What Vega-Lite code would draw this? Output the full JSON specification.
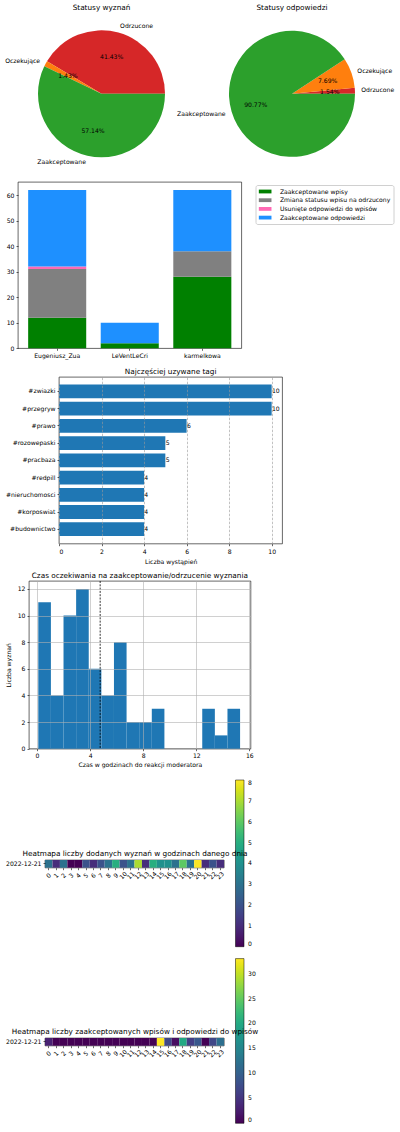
{
  "$schema": "https://vega.github.io/schema/vega-lite/v6.json",
  "padding": {"left": 4, "top": 4, "right": 0, "bottom": 0},
  "columns": 1,
  "align": "none",
  "spacing": 6,
  "resolve": {"scale": {"color": "independent"}, "legend": {"color": "independent"}},
  "config": {
    "font": "DejaVu Sans",
    "view": {"stroke": null},
    "axis": {
      "labelFont": "DejaVu Sans", "labelFontSize": 6.1, "labelColor": "#000",
      "tickColor": "#000", "tickSize": 2, "tickWidth": 0.6,
      "domain": false, "labelPadding": 2,
      "titleFont": "DejaVu Sans", "titleFontSize": 6.1, "titleFontWeight": "normal", "titleColor": "#000",
      "grid": false
    },
    "title": {"font": "DejaVu Sans", "fontSize": 7.3, "fontWeight": "normal", "color": "#000"},
    "legend": {"labelFont": "DejaVu Sans", "labelFontSize": 6.1, "labelColor": "#000"}
  },
  "concat": [
    {
      "spacing": 0,
      "hconcat": [
        {"width": 1, "height": 1, "data": {"values": [{}]}, "mark": {"type": "point", "size": 0, "opacity": 0}, "encoding": {}},
        {
          "spacing": 12,
          "hconcat": [
            {
              "width": 127, "height": 161.6,
              "title": {"text": "Statusy wyznań", "offset": 1.5},
              "data": {"values": [
                {"status": "Odrzucone", "count": 29, "ord": 1, "pct": "41.43%"},
                {"status": "Oczekujące", "count": 1, "ord": 2, "pct": "1.43%"},
                {"status": "Zaakceptowane", "count": 40, "ord": 3, "pct": "57.14%"}
              ]},
              "encoding": {
                "theta": {"field": "count", "type": "quantitative", "stack": true, "scale": {"range": [1.5708, 7.854]}},
                "order": {"field": "ord", "type": "quantitative", "sort": "descending"},
                "color": {"field": "status", "type": "nominal", "scale": {"domain": ["Odrzucone", "Oczekujące", "Zaakceptowane"], "range": ["#d62728", "#ff7f0e", "#2ca02c"]}, "legend": null}
              },
              "layer": [
                {"mark": {"type": "arc", "outerRadius": 63.5}},
                {"mark": {"type": "text", "radius": 38.1, "fontSize": 6.1, "font": "DejaVu Sans", "baseline": "middle"}, "encoding": {"text": {"field": "pct"}, "color": {"value": "#000"}}},
                {"mark": {"type": "text", "radius": 69.85, "fontSize": 6.1, "font": "DejaVu Sans", "baseline": "middle", "align": {"expr": "datum.status === 'Odrzucone' ? 'left' : 'right'"}}, "encoding": {"text": {"field": "status"}, "color": {"value": "#000"}}}
              ]
            },
            {
              "width": 126, "height": 161.6,
              "title": {"text": "Statusy odpowiedzi", "offset": 1.5},
              "data": {"values": [
                {"status": "Odrzucone", "count": 1, "ord": 1, "pct": "1.54%"},
                {"status": "Oczekujące", "count": 5, "ord": 2, "pct": "7.69%"},
                {"status": "Zaakceptowane", "count": 59, "ord": 3, "pct": "90.77%"}
              ]},
              "encoding": {
                "theta": {"field": "count", "type": "quantitative", "stack": true, "scale": {"range": [1.5708, 7.854]}},
                "order": {"field": "ord", "type": "quantitative", "sort": "descending"},
                "color": {"field": "status", "type": "nominal", "scale": {"domain": ["Odrzucone", "Oczekujące", "Zaakceptowane"], "range": ["#d62728", "#ff7f0e", "#2ca02c"]}, "legend": null}
              },
              "layer": [
                {"mark": {"type": "arc", "outerRadius": 63}},
                {"mark": {"type": "text", "radius": 37.8, "fontSize": 6.1, "font": "DejaVu Sans", "baseline": "middle"}, "encoding": {"text": {"field": "pct"}, "color": {"value": "#000"}}},
                {"mark": {"type": "text", "radius": 69.3, "fontSize": 6.1, "font": "DejaVu Sans", "baseline": "middle", "align": {"expr": "datum.status === 'Zaakceptowane' ? 'right' : 'left'"}}, "encoding": {"text": {"field": "status"}, "color": {"value": "#000"}}}
              ]
            }
          ]
        }
      ]
    },
    {
      "spacing": 0,
      "resolve": {"scale": {"color": "independent"}, "legend": {"color": "independent"}},
      "hconcat": [
        {"width": 1, "height": 1, "data": {"values": [{}]}, "mark": {"type": "point", "size": 0, "opacity": 0}, "encoding": {}},
        {
          "width": 223.5, "height": 166.3,
          "view": {"stroke": "#000", "strokeWidth": 0.6},
          "data": {"values": [
            {"user": "Eugeniusz_Zua", "category": "Zaakceptowane wpisy", "layer": 1, "value": 12},
            {"user": "Eugeniusz_Zua", "category": "Zmiana statusu wpisu na odrzucony", "layer": 2, "value": 19},
            {"user": "Eugeniusz_Zua", "category": "Usunięte odpowiedzi do wpisów", "layer": 3, "value": 1},
            {"user": "Eugeniusz_Zua", "category": "Zaakceptowane odpowiedzi", "layer": 4, "value": 30},
            {"user": "LeVentLeCri", "category": "Zaakceptowane wpisy", "layer": 1, "value": 2},
            {"user": "LeVentLeCri", "category": "Zmiana statusu wpisu na odrzucony", "layer": 2, "value": 0},
            {"user": "LeVentLeCri", "category": "Usunięte odpowiedzi do wpisów", "layer": 3, "value": 0},
            {"user": "LeVentLeCri", "category": "Zaakceptowane odpowiedzi", "layer": 4, "value": 8},
            {"user": "karmelkowa", "category": "Zaakceptowane wpisy", "layer": 1, "value": 28},
            {"user": "karmelkowa", "category": "Zmiana statusu wpisu na odrzucony", "layer": 2, "value": 10},
            {"user": "karmelkowa", "category": "Usunięte odpowiedzi do wpisów", "layer": 3, "value": 0},
            {"user": "karmelkowa", "category": "Zaakceptowane odpowiedzi", "layer": 4, "value": 24}
          ]},
          "mark": {"type": "bar"},
          "encoding": {
            "x": {"field": "user", "type": "nominal", "sort": null, "scale": {"paddingInner": 0.2, "paddingOuter": 0.14}, "axis": {"title": null, "labelAngle": 0, "minExtent": 11.4}},
            "y": {"field": "value", "type": "quantitative", "stack": "zero", "scale": {"domain": [0, 65.1], "nice": false}, "axis": {"title": null, "values": [0, 10, 20, 30, 40, 50, 60]}},
            "order": {"field": "layer", "type": "quantitative"},
            "color": {
              "field": "category", "type": "nominal",
              "scale": {"domain": ["Zaakceptowane wpisy", "Zmiana statusu wpisu na odrzucony", "Usunięte odpowiedzi do wpisów", "Zaakceptowane odpowiedzi"], "range": ["#008000", "#808080", "#ff69b4", "#1e90ff"]},
              "legend": {"orient": "none", "legendX": 237.5, "legendY": 3, "title": null, "direction": "vertical", "fillColor": "#fff", "strokeColor": "#d0d0d0", "padding": 3, "cornerRadius": 2, "symbolType": "M-2,-0.6H2V0.6H-2Z", "symbolSize": 40, "symbolStrokeWidth": 0, "symbolOffset": 3.15, "labelOffset": 11.3, "rowPadding": 1.7, "labelLimit": 300}
            }
          }
        }
      ]
    },
    {
      "spacing": 0,
      "hconcat": [
        {"width": 1, "height": 1, "data": {"values": [{}]}, "mark": {"type": "point", "size": 0, "opacity": 0}, "encoding": {}},
        {
          "width": 223.3, "height": 166.7,
          "title": {"text": "Najczęściej uzywane tagi", "offset": 1.7},
          "view": {"stroke": "#000", "strokeWidth": 0.6},
          "data": {"values": [
            {"tag": "#zwiazki", "count": 10},
            {"tag": "#przegryw", "count": 10},
            {"tag": "#prawo", "count": 6},
            {"tag": "#rozowepaski", "count": 5},
            {"tag": "#pracbaza", "count": 5},
            {"tag": "#redpill", "count": 4},
            {"tag": "#nieruchomosci", "count": 4},
            {"tag": "#korposwiat", "count": 4},
            {"tag": "#budownictwo", "count": 4}
          ]},
          "encoding": {
            "y": {"field": "tag", "type": "nominal", "sort": null, "scale": {"paddingInner": 0.2, "paddingOuter": 0.44}, "axis": {"title": null}},
            "x": {"field": "count", "type": "quantitative", "scale": {"domain": [0, 10.5], "nice": false}, "axis": {"title": "Liczba wystąpień", "values": [0, 2, 4, 6, 8, 10], "grid": true, "gridDash": [2.5, 1.5], "gridColor": "#999", "gridWidth": 0.6, "zindex": 1, "titlePadding": 4, "labelPadding": 2.5}}
          },
          "layer": [
            {"mark": {"type": "bar", "color": "#1f77b4"}},
            {"mark": {"type": "text", "align": "left", "baseline": "middle", "fontSize": 6.1, "font": "DejaVu Sans", "dx": 0.3, "color": "#000"}, "encoding": {"text": {"field": "count"}}}
          ]
        }
      ]
    },
    {
      "spacing": 0,
      "hconcat": [
        {"width": 1, "height": 1, "data": {"values": [{}]}, "mark": {"type": "point", "size": 0, "opacity": 0}, "encoding": {}},
        {
          "width": 221.7, "height": 167.7,
          "title": {"text": "Czas oczekiwania na zaakceptowanie/odrzucenie wyznania", "offset": 1.5},
          "view": {"stroke": "#000", "strokeWidth": 0.6},
          "layer": [
            {
              "data": {"values": [
                {"start": 0.1, "end": 1.05, "count": 11},
                {"start": 1.05, "end": 2.0, "count": 4},
                {"start": 2.0, "end": 2.95, "count": 10},
                {"start": 2.95, "end": 3.9, "count": 12},
                {"start": 3.9, "end": 4.85, "count": 6},
                {"start": 4.85, "end": 5.8, "count": 4},
                {"start": 5.8, "end": 6.75, "count": 8},
                {"start": 6.75, "end": 7.7, "count": 2},
                {"start": 7.7, "end": 8.65, "count": 2},
                {"start": 8.65, "end": 9.6, "count": 3},
                {"start": 9.6, "end": 10.55, "count": 0},
                {"start": 10.55, "end": 11.5, "count": 0},
                {"start": 11.5, "end": 12.45, "count": 0},
                {"start": 12.45, "end": 13.4, "count": 3},
                {"start": 13.4, "end": 14.35, "count": 1},
                {"start": 14.35, "end": 15.3, "count": 3}
              ]},
              "mark": {"type": "rect", "color": "#1f77b4"},
              "encoding": {
                "x": {"field": "start", "type": "quantitative", "scale": {"domain": [-0.6, 16.1], "nice": false, "zero": false}, "axis": {"title": "Czas w godzinach do reakcji moderatora", "values": [0, 2, 4, 6, 8, 10, 12, 14, 16], "grid": true, "gridColor": "#b0b0b0", "gridWidth": 0.6, "zindex": 1, "titlePadding": 3}},
                "x2": {"field": "end"},
                "y": {"field": "count", "type": "quantitative", "scale": {"domain": [0, 12.6], "nice": false}, "axis": {"title": "Liczba wyznań", "values": [0, 2, 4, 6, 8, 10, 12], "grid": true, "gridColor": "#b0b0b0", "gridWidth": 0.6, "zindex": 1, "titlePadding": 5.4}},
                "y2": {"datum": 0}
              }
            },
            {
              "data": {"values": [{"mean": 4.76}]},
              "mark": {"type": "rule", "color": "#000", "strokeDash": [2, 1.3], "strokeWidth": 0.8},
              "encoding": {"x": {"field": "mean", "type": "quantitative"}}
            }
          ]
        }
      ]
    },
    {
      "spacing": 0,
      "resolve": {"scale": {"color": "independent"}, "legend": {"color": "independent"}},
      "hconcat": [
        {"width": 1, "height": 1, "data": {"values": [{}]}, "mark": {"type": "point", "size": 0, "opacity": 0}, "encoding": {}},
        {
          "width": 179, "height": 7.7,
          "view": {"stroke": "#000", "strokeWidth": 0.6},
          "data": {"values": [
            {"date": "2022-12-21", "hour": 0, "count": 3},
            {"date": "2022-12-21", "hour": 1, "count": 1},
            {"date": "2022-12-21", "hour": 2, "count": 3},
            {"date": "2022-12-21", "hour": 3, "count": 0},
            {"date": "2022-12-21", "hour": 4, "count": 0},
            {"date": "2022-12-21", "hour": 5, "count": 2},
            {"date": "2022-12-21", "hour": 6, "count": 1},
            {"date": "2022-12-21", "hour": 7, "count": 2},
            {"date": "2022-12-21", "hour": 8, "count": 3},
            {"date": "2022-12-21", "hour": 9, "count": 5},
            {"date": "2022-12-21", "hour": 10, "count": 2},
            {"date": "2022-12-21", "hour": 11, "count": 3},
            {"date": "2022-12-21", "hour": 12, "count": 7},
            {"date": "2022-12-21", "hour": 13, "count": 1},
            {"date": "2022-12-21", "hour": 14, "count": 5},
            {"date": "2022-12-21", "hour": 15, "count": 4},
            {"date": "2022-12-21", "hour": 16, "count": 4},
            {"date": "2022-12-21", "hour": 17, "count": 3},
            {"date": "2022-12-21", "hour": 18, "count": 6},
            {"date": "2022-12-21", "hour": 19, "count": 3},
            {"date": "2022-12-21", "hour": 20, "count": 8},
            {"date": "2022-12-21", "hour": 21, "count": 1},
            {"date": "2022-12-21", "hour": 22, "count": 2},
            {"date": "2022-12-21", "hour": 23, "count": 1}
          ]},
          "resolve": {"axis": {"x": "independent"}},
          "layer": [
            {
              "mark": {"type": "rect"},
              "encoding": {
                "x": {"field": "hour", "type": "ordinal", "scale": {"paddingInner": 0, "paddingOuter": 0}, "axis": {"title": null, "labelAngle": -45, "labelAlign": "center", "labelBaseline": "middle", "labelPadding": 5.5, "labelOverlap": false}},
                "y": {"field": "date", "type": "nominal", "axis": {"title": null}},
                "color": {
                  "field": "count", "type": "quantitative",
                  "scale": {"scheme": "viridis", "domain": [0, 8]},
                  "legend": {"orient": "none", "legendX": 186.5, "legendY": -84, "padding": 4, "direction": "vertical", "gradientLength": 166.7, "gradientThickness": 8.5, "title": null, "values": [0, 1, 2, 3, 4, 5, 6, 7, 8], "gradientStrokeColor": "#000", "gradientStrokeWidth": 0.5, "labelOffset": 4}
                }
              }
            },
            {
              "mark": {"type": "rect", "opacity": 0},
              "encoding": {
                "x": {"field": "hour", "type": "ordinal", "axis": {"orient": "top", "title": "Heatmapa liczby dodanych wyznań w godzinach danego dnia", "labels": false, "ticks": false, "titleFontSize": 7.3, "titlePadding": 2.3, "titleLimit": 400}},
                "y": {"field": "date", "type": "nominal"}
              }
            }
          ]
        }
      ]
    },
    {
      "spacing": 0,
      "resolve": {"scale": {"color": "independent"}, "legend": {"color": "independent"}},
      "hconcat": [
        {"width": 1, "height": 1, "data": {"values": [{}]}, "mark": {"type": "point", "size": 0, "opacity": 0}, "encoding": {}},
        {
          "width": 179, "height": 7.7,
          "view": {"stroke": "#000", "strokeWidth": 0.6},
          "data": {"values": [
            {"date": "2022-12-21", "hour": 0, "count": 3},
            {"date": "2022-12-21", "hour": 1, "count": 0},
            {"date": "2022-12-21", "hour": 2, "count": 0},
            {"date": "2022-12-21", "hour": 3, "count": 0},
            {"date": "2022-12-21", "hour": 4, "count": 0},
            {"date": "2022-12-21", "hour": 5, "count": 0},
            {"date": "2022-12-21", "hour": 6, "count": 0},
            {"date": "2022-12-21", "hour": 7, "count": 0},
            {"date": "2022-12-21", "hour": 8, "count": 0},
            {"date": "2022-12-21", "hour": 9, "count": 0},
            {"date": "2022-12-21", "hour": 10, "count": 0},
            {"date": "2022-12-21", "hour": 11, "count": 0},
            {"date": "2022-12-21", "hour": 12, "count": 0},
            {"date": "2022-12-21", "hour": 13, "count": 0},
            {"date": "2022-12-21", "hour": 14, "count": 0},
            {"date": "2022-12-21", "hour": 15, "count": 33},
            {"date": "2022-12-21", "hour": 16, "count": 7},
            {"date": "2022-12-21", "hour": 17, "count": 1},
            {"date": "2022-12-21", "hour": 18, "count": 20},
            {"date": "2022-12-21", "hour": 19, "count": 6},
            {"date": "2022-12-21", "hour": 20, "count": 9},
            {"date": "2022-12-21", "hour": 21, "count": 0},
            {"date": "2022-12-21", "hour": 22, "count": 7},
            {"date": "2022-12-21", "hour": 23, "count": 12}
          ]},
          "resolve": {"axis": {"x": "independent"}},
          "layer": [
            {
              "mark": {"type": "rect"},
              "encoding": {
                "x": {"field": "hour", "type": "ordinal", "scale": {"paddingInner": 0, "paddingOuter": 0}, "axis": {"title": null, "labelAngle": -45, "labelAlign": "center", "labelBaseline": "middle", "labelPadding": 5.5, "labelOverlap": false}},
                "y": {"field": "date", "type": "nominal", "axis": {"title": null}},
                "color": {
                  "field": "count", "type": "quantitative",
                  "scale": {"scheme": "viridis", "domain": [0, 33]},
                  "legend": {"orient": "none", "legendX": 190.5, "legendY": -79.4, "padding": 0, "direction": "vertical", "gradientLength": 164.7, "gradientThickness": 8.5, "title": null, "values": [0, 5, 10, 15, 20, 25, 30], "gradientStrokeColor": "#000", "gradientStrokeWidth": 0.5, "labelOffset": 4}
                }
              }
            },
            {
              "mark": {"type": "rect", "opacity": 0},
              "encoding": {
                "x": {"field": "hour", "type": "ordinal", "axis": {"orient": "top", "title": "Heatmapa liczby zaakceptowanych wpisów i odpowiedzi do wpisów", "labels": false, "ticks": false, "titleFontSize": 7.3, "titlePadding": 2.3, "titleLimit": 400}},
                "y": {"field": "date", "type": "nominal"}
              }
            }
          ]
        }
      ]
    }
  ]
}
